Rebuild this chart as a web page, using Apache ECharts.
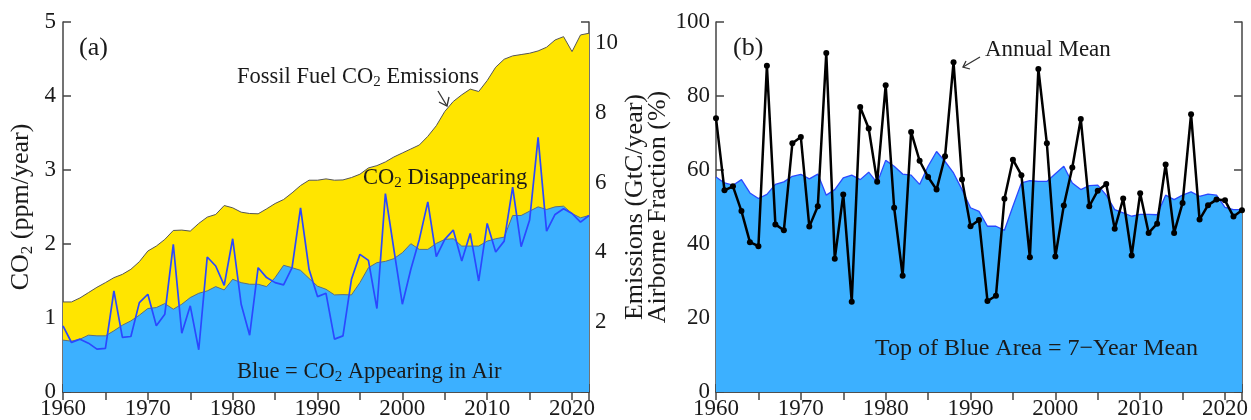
<!DOCTYPE html>
<html>
<head>
<meta charset="utf-8">
<script src="https://cdn.jsdelivr.net/npm/echarts@6/dist/echarts.min.js"></script>
<style>
  html, body { margin: 0; padding: 0; background: #ffffff; }
  #chart { width: 1251px; height: 420px; }
</style>
</head>
<body>
<div id="chart"></div>
<script>
// Years run 1960 .. 2022, one value per year
const firstYear = 1960;

// (a) Fossil fuel CO2 emissions, ppm/year (top of yellow area)
const fossilEmissionsPpm = [
  1.217, 1.217, 1.271, 1.343, 1.415, 1.478, 1.545, 1.590, 1.658, 1.761,
  1.905, 1.972, 2.062, 2.183, 2.188, 2.174, 2.278, 2.363, 2.399, 2.520,
  2.489, 2.430, 2.412, 2.408, 2.475, 2.547, 2.601, 2.691, 2.790, 2.862,
  2.862, 2.880, 2.862, 2.866, 2.898, 2.943, 3.028, 3.059, 3.109, 3.176,
  3.230, 3.284, 3.338, 3.455, 3.598, 3.791, 3.926, 4.016, 4.093, 4.061,
  4.209, 4.389, 4.497, 4.542, 4.560, 4.578, 4.609, 4.659, 4.757, 4.802,
  4.600, 4.825, 4.848
];

// (a) CO2 appearing in air, 7-year smoothed, ppm/year (top of blue area)
const airSmoothPpm = [
  0.701, 0.687, 0.714, 0.768, 0.759, 0.759, 0.827, 0.903, 0.961, 1.038,
  1.128, 1.141, 1.195, 1.119, 1.186, 1.276, 1.334, 1.366, 1.424, 1.379,
  1.523, 1.478, 1.456, 1.456, 1.424, 1.546, 1.712, 1.680, 1.644, 1.535,
  1.430, 1.388, 1.312, 1.316, 1.312, 1.478, 1.680, 1.748, 1.765, 1.802,
  1.882, 2.004, 1.927, 1.927, 2.008, 2.062, 2.071, 1.972, 1.972, 1.972,
  2.039, 2.071, 2.093, 2.385, 2.385, 2.444, 2.502, 2.466, 2.502, 2.511,
  2.412, 2.354, 2.385
];

// (a) Annual CO2 growth in air, ppm/year (blue line)
const airAnnualPpm = [
  0.894, 0.669, 0.714, 0.660, 0.580, 0.589, 1.366, 0.737, 0.750, 1.208,
  1.321, 0.894, 1.051, 1.995, 0.795, 1.164, 0.571, 1.824, 1.703, 1.442,
  2.071, 1.186, 0.768, 1.680, 1.546, 1.478, 1.447, 1.680, 2.489, 1.658,
  1.289, 1.334, 0.714, 0.759, 1.523, 1.860, 1.779, 1.128, 2.680, 1.927,
  1.186, 1.658, 2.062, 2.570, 1.829, 2.062, 2.188, 1.770, 2.143, 1.500,
  2.278, 1.891, 2.039, 2.770, 1.963, 2.323, 3.440, 2.174, 2.399, 2.476,
  2.412, 2.295, 2.385
];

// (b) Airborne fraction, annual mean, %
const fractionAnnualPct = [
  74.0, 54.5, 55.6, 48.9, 40.5, 39.4, 88.2, 45.3, 43.7, 67.2,
  68.9, 44.7, 50.2, 91.6, 36.0, 53.4, 24.4, 77.0, 71.2, 56.8,
  82.9, 49.8, 31.4, 70.3, 62.5, 58.1, 54.7, 63.7, 89.1, 57.4,
  44.8, 46.5, 24.6, 26.0, 52.2, 62.8, 58.6, 36.4, 87.3, 67.2,
  36.6, 50.4, 60.7, 73.8, 50.2, 54.4, 56.2, 44.1, 52.3, 36.9,
  53.7, 43.0, 45.5, 61.5, 43.0, 51.1, 75.1, 46.6, 50.5, 52.0,
  51.8, 47.4, 49.1
];

// (b) Airborne fraction, 7-year mean, % (top of blue area)
const fraction7yrPct = [
  58.1, 56.5, 55.9, 57.4, 53.8, 52.3, 53.4, 56.1, 56.8, 58.3,
  58.8, 57.6, 58.9, 53.2, 54.7, 57.9, 58.6, 57.4, 59.4, 56.5,
  62.6, 61.0, 58.9, 58.6, 56.1, 61.0, 65.0, 62.3, 59.2, 54.7,
  49.8, 48.8, 44.8, 44.8, 43.7, 50.2, 56.5, 57.1, 56.9, 56.9,
  59.0, 61.0, 56.5, 54.7, 55.8, 55.9, 53.2, 49.3, 48.4, 47.5,
  48.0, 48.0, 47.9, 53.2, 52.0, 53.2, 54.1, 52.9, 53.5, 53.2,
  49.9, 49.3, 49.3
];

// Axis ranges and tick labels
const yearRange = [1960, 2022];
const ppmRange = [0, 5];
const gtcPerPpm = 2.12;          // right-hand scale of panel (a)
const gtcTickLabels = [2, 4, 6, 8, 10];
const pctRange = [0, 100];

const FONT = "'Liberation Serif', 'DejaVu Serif', serif";
const INK = '#1a1a1a';
const FRAME = '#444444';
const YELLOW = '#FFE500';
const SKY = '#3CB0FF';
const BLUE_LINE = '#2B48FF';

const TICK_SIZE = 23;
const TITLE_SIZE = 26;
const NOTE_SIZE = 22.5;

const toPairs = arr => arr.map((v, i) => [firstYear + i, v]);

const frameLine = { show: true, lineStyle: { color: FRAME, width: 1.5 } };
const frameTick = { show: true, inside: true, length: 8, lineStyle: { color: FRAME, width: 1.5 } };
const tickFont = { fontFamily: FONT, fontSize: TICK_SIZE, color: INK };

function yearAxis(gridIndex, position, showLabels) {
  return {
    type: 'value', gridIndex, position,
    min: yearRange[0], max: yearRange[1], interval: 5,
    axisLine: frameLine, axisTick: frameTick, splitLine: { show: false },
    axisLabel: Object.assign({
      show: showLabels, margin: 5,
      formatter: v => (v % 10 === 0 ? String(v) : '')
    }, tickFont)
  };
}

const titleFont = { fontFamily: FONT, fontSize: TITLE_SIZE, color: INK };
const subRich = {
  n: titleFont,
  s: { fontFamily: FONT, fontSize: 17, color: INK, padding: [12, 0, 0, 0] }
};

function noteText(x, y, text, size) {
  return {
    type: 'text', x, y, silent: true, z: 100, zlevel: 1,
    style: {
      text,
      align: 'left', verticalAlign: 'middle',
      textAlign: 'left', textVerticalAlign: 'middle',
      rich: {
        n: { fontFamily: FONT, fontSize: size, fill: INK, color: INK },
        s: { fontFamily: FONT, fontSize: Math.round(size * 0.65), fill: INK, color: INK, padding: [10, 0, 0, 0] }
      }
    }
  };
}

function arrow(points, head) {
  return [
    { type: 'polyline', silent: true, z: 100, zlevel: 1, shape: { points }, style: { stroke: '#333', lineWidth: 1.3, fill: null } },
    { type: 'polyline', silent: true, z: 100, zlevel: 1, shape: { points: head }, style: { stroke: '#333', lineWidth: 1.3, fill: null } }
  ];
}

const chart = echarts.init(document.getElementById('chart'), null, { renderer: 'canvas' });

chart.setOption({
  animation: false,
  backgroundColor: '#ffffff',
  grid: [
    { left: 63, right: 662, top: 22, bottom: 27 },
    { left: 716, right: 8, top: 22, bottom: 27 }
  ],
  xAxis: [
    yearAxis(0, 'bottom', true),
    yearAxis(0, 'top', false),
    yearAxis(1, 'bottom', true),
    yearAxis(1, 'top', false)
  ],
  yAxis: [
    {
      type: 'value', gridIndex: 0, position: 'left',
      min: ppmRange[0], max: ppmRange[1], interval: 1,
      axisLine: frameLine, axisTick: frameTick, splitLine: { show: false },
      axisLabel: Object.assign({ margin: 7 }, tickFont),
      name: '{n|CO}{s|2}{n| (ppm/year)}',
      nameLocation: 'middle', nameRotate: 90, nameGap: 27,
      nameTextStyle: { rich: subRich }
    },
    {
      type: 'value', gridIndex: 0, position: 'right',
      min: 0, max: ppmRange[1] * gtcPerPpm, interval: 2,
      axisLine: frameLine, axisTick: frameTick, splitLine: { show: false },
      axisLabel: Object.assign({
        margin: 6,
        formatter: v => (gtcTickLabels.indexOf(v) >= 0 ? String(v) : '')
      }, tickFont),
      name: 'Emissions (GtC/year)',
      nameLocation: 'middle', nameRotate: 90, nameGap: 28,
      nameTextStyle: titleFont
    },
    {
      type: 'value', gridIndex: 1, position: 'left',
      min: pctRange[0], max: pctRange[1], interval: 20,
      axisLine: frameLine, axisTick: frameTick, splitLine: { show: false },
      axisLabel: Object.assign({ margin: 6 }, tickFont),
      name: 'Airborne Fraction (%)',
      nameLocation: 'middle', nameRotate: 90, nameGap: 44,
      nameTextStyle: titleFont
    },
    {
      type: 'value', gridIndex: 1, position: 'right',
      min: pctRange[0], max: pctRange[1], interval: 20,
      axisLine: frameLine, axisTick: frameTick, splitLine: { show: false },
      axisLabel: { show: false }
    }
  ],
  series: [
    {
      name: 'Fossil Fuel CO2 Emissions', type: 'line',
      xAxisIndex: 0, yAxisIndex: 0,
      data: toPairs(fossilEmissionsPpm),
      showSymbol: false, symbol: 'none',
      lineStyle: { color: '#555555', width: 1 },
      areaStyle: { color: YELLOW, opacity: 1 },
      z: 1
    },
    {
      name: 'CO2 Appearing in Air (smoothed)', type: 'line',
      xAxisIndex: 0, yAxisIndex: 0,
      data: toPairs(airSmoothPpm),
      showSymbol: false, symbol: 'none',
      lineStyle: { color: '#5a6e80', width: 1 },
      areaStyle: { color: SKY, opacity: 1 },
      z: 2
    },
    {
      name: 'CO2 Appearing in Air (annual)', type: 'line',
      xAxisIndex: 0, yAxisIndex: 0,
      data: toPairs(airAnnualPpm),
      showSymbol: false, symbol: 'none',
      lineStyle: { color: BLUE_LINE, width: 1.7 },
      z: 3
    },
    {
      name: '7-Year Mean', type: 'line',
      xAxisIndex: 2, yAxisIndex: 2,
      data: toPairs(fraction7yrPct),
      showSymbol: false, symbol: 'none',
      lineStyle: { color: BLUE_LINE, width: 1.3 },
      areaStyle: { color: SKY, opacity: 1 },
      z: 2
    },
    {
      name: 'Annual Mean', type: 'line',
      xAxisIndex: 2, yAxisIndex: 2,
      data: toPairs(fractionAnnualPct),
      symbol: 'circle', symbolSize: 6, showSymbol: true,
      itemStyle: { color: '#000000' },
      lineStyle: { color: '#000000', width: 2.5 },
      z: 3
    }
  ],
  graphic: [
    noteText(79, 48, '{n|(a)}', 26),
    noteText(733, 48, '{n|(b)}', 26),
    noteText(237, 77, '{n|Fossil Fuel CO}{s|2}{n| Emissions}', NOTE_SIZE),
    noteText(363, 178, '{n|CO}{s|2}{n| Disappearing}', NOTE_SIZE),
    noteText(237, 372, '{n|Blue = CO}{s|2}{n| Appearing in Air}', NOTE_SIZE),
    noteText(985, 50, '{n|Annual Mean}', 23),
    noteText(875, 349, '{n|Top of Blue Area = 7\u2212Year Mean}', 24),
    ...arrow([[438, 91], [447, 106]], [[439, 102], [447, 106], [449, 97]]),
    ...arrow([[980, 57], [963, 67]], [[966, 61], [963, 67], [970, 69]])
  ]
});
</script>
</body>
</html>
